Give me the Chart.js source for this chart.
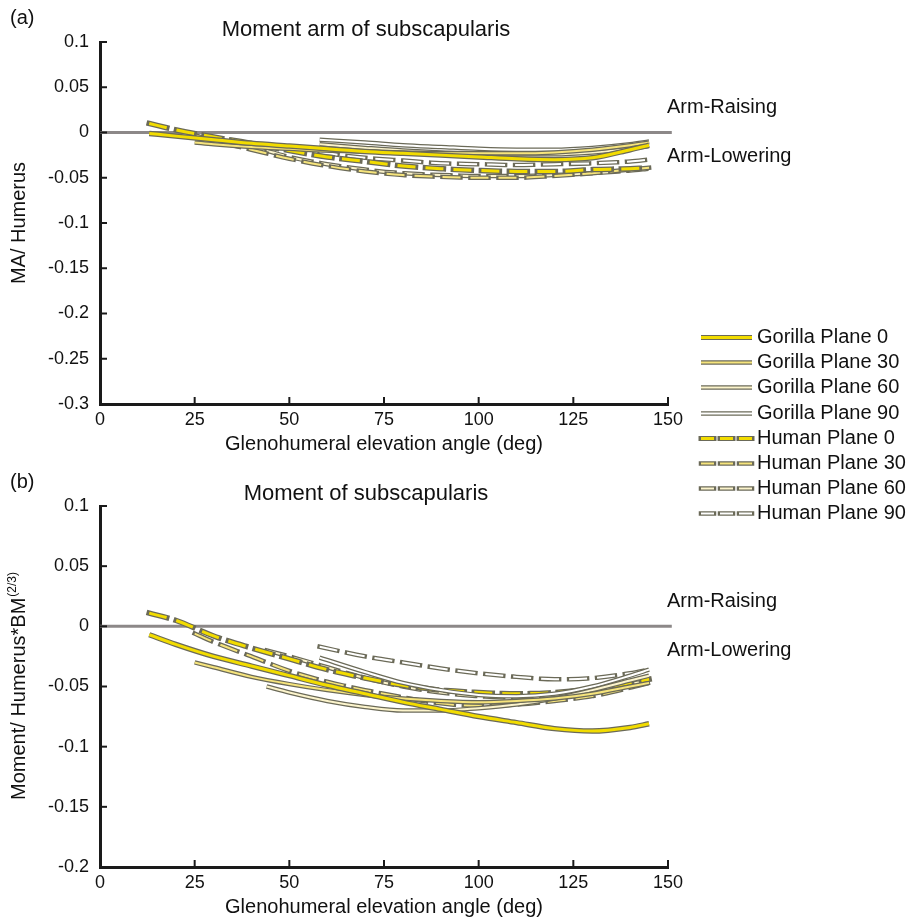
<!DOCTYPE html>
<html lang="en">
<head>
    <meta charset="UTF-8">
    <title>Moment arm of subscapularis</title>
    <script src="https://cdn.jsdelivr.net/npm/chart.js"></script>
    <style>
        body {
            margin: 0;
            background-color: #fff;
        }
        #wrap {
            position: relative;
            width: 914px;
            height: 917px;
        }
        canvas {
            position: absolute;
            left: 0;
        }
    </style>
</head>
<body>

<div id="wrap">
    <canvas id="chartA" width="914" height="460" style="top:0"></canvas>
    <canvas id="chartB" width="914" height="457" style="top:460px"></canvas>
    <canvas id="legend" width="216" height="200" style="left:698px; top:325px"></canvas>
</div>

<script>
// x positions (deg) - each series starts at a different elevation
const X_13 = [13, 20, 30, 40, 50, 60, 70, 80, 90, 100, 110, 120, 130, 140, 145];
const X_25 = [25, 30, 40, 50, 60, 70, 80, 90, 100, 110, 120, 130, 140, 145];
const X_44 = [44, 50, 60, 70, 80, 90, 100, 110, 120, 130, 140, 145];
const X_58 = [58, 70, 80, 90, 100, 110, 120, 130, 140, 145];

// (a) moment arm
const A_GOR0  = [-0.001, -0.004, -0.008, -0.012, -0.015, -0.018, -0.021, -0.023, -0.025, -0.027, -0.029, -0.030, -0.028, -0.019, -0.014];
const A_GOR30 = [-0.011, -0.013, -0.016, -0.018, -0.020, -0.021, -0.022, -0.023, -0.023, -0.023, -0.022, -0.019, -0.014, -0.011];
const A_GOR60 = [-0.013, -0.017, -0.020, -0.022, -0.023, -0.024, -0.024, -0.022, -0.018, -0.015];
const A_GOR90 = [-0.008, -0.011, -0.014, -0.016, -0.018, -0.019, -0.019, -0.017, -0.013, -0.010];
const A_HUM0  = [0.010, 0.003, -0.005, -0.012, -0.020, -0.027, -0.032, -0.037, -0.040, -0.042, -0.043, -0.043, -0.041, -0.040, -0.039];
const A_HUM30 = [-0.003, -0.009, -0.019, -0.029, -0.037, -0.043, -0.047, -0.049, -0.050, -0.050, -0.048, -0.045, -0.041, -0.039];
const A_HUM60 = [-0.020, -0.027, -0.035, -0.041, -0.045, -0.047, -0.048, -0.048, -0.047, -0.045, -0.042, -0.040];
const A_HUM90 = [-0.022, -0.028, -0.031, -0.034, -0.035, -0.036, -0.035, -0.034, -0.032, -0.030];

// (b) moment
const B_GOR0  = [-0.007, -0.015, -0.025, -0.033, -0.041, -0.049, -0.056, -0.063, -0.069, -0.075, -0.080, -0.085, -0.087, -0.084, -0.081];
const B_GOR30 = [-0.030, -0.034, -0.042, -0.048, -0.053, -0.057, -0.060, -0.062, -0.063, -0.062, -0.060, -0.056, -0.050, -0.047];
const B_GOR60 = [-0.050, -0.055, -0.062, -0.067, -0.070, -0.070, -0.068, -0.065, -0.060, -0.053, -0.045, -0.041];
const B_GOR90 = [-0.026, -0.038, -0.047, -0.053, -0.057, -0.058, -0.056, -0.050, -0.041, -0.036];
const B_HUM0  = [0.011, 0.005, -0.008, -0.018, -0.027, -0.036, -0.043, -0.049, -0.053, -0.055, -0.056, -0.055, -0.052, -0.047, -0.044];
const B_HUM30 = [-0.006, -0.013, -0.025, -0.037, -0.046, -0.053, -0.059, -0.064, -0.066, -0.065, -0.062, -0.058, -0.051, -0.047];
const B_HUM60 = [-0.020, -0.025, -0.034, -0.043, -0.050, -0.055, -0.058, -0.059, -0.057, -0.053, -0.048, -0.045];
const B_HUM90 = [-0.017, -0.025, -0.030, -0.035, -0.039, -0.042, -0.044, -0.043, -0.039, -0.036];

const NAMES = ['Gorilla Plane 0', 'Gorilla Plane 30', 'Gorilla Plane 60', 'Gorilla Plane 90',
               'Human Plane 0', 'Human Plane 30', 'Human Plane 60', 'Human Plane 90'];
const COLORS = ['#f2dc00', '#f6e47c', '#fcf4cc', '#ffffff', '#f2dc00', '#f6e47c', '#fcf4cc', '#ffffff'];
const DASHED = [false, false, false, false, true, true, true, true];
const OUTLINE = '#6b6a58';

const X_TICK_STEP = 25;
const FONT = "'Liberation Sans', Arial, Helvetica, sans-serif";

Chart.defaults.font.family = FONT;
Chart.defaults.color = '#111';

function montarDatasets(xs, ys) {
    const sets = [];
    for (let i = 0; i < ys.length; i++) {
        const pts = xs[i].map((x, k) => ({ x: x, y: ys[i][k] }));
        const bold = COLORS[i] === '#f2dc00';
        const dash = DASHED[i] ? [18, 10] : [];
        // colored core first, so it is painted above its outline
        sets.push({
            data: pts,
            borderColor: COLORS[i],
            borderWidth: bold ? 3 : 2,
            borderDash: dash,
            borderCapStyle: 'butt',
            pointRadius: 0,
            cubicInterpolationMode: 'monotone'
        });
        sets.push({
            data: pts,
            borderColor: OUTLINE,
            borderWidth: bold ? 5.5 : 4.5,
            borderDash: dash,
            borderCapStyle: DASHED[i] ? 'square' : 'butt',
            pointRadius: 0,
            cubicInterpolationMode: 'monotone'
        });
    }
    // zero reference line, drawn behind everything
    sets.push({
        data: [{ x: 0, y: 0 }, { x: 151, y: 0 }],
        borderColor: '#8c8888',
        borderWidth: 3,
        pointRadius: 0,
        clip: false
    });
    return sets;
}

function textoPainel(opts) {
    return {
        id: 'textoPainel',
        afterDraw(chart) {
            const { ctx, chartArea: a, scales: { x, y } } = chart;
            ctx.save();

            // inward tick marks
            ctx.strokeStyle = '#1a1a1a';
            ctx.lineWidth = 2;
            x.ticks.forEach(t => {
                if (t.value === 0) return;
                const px = x.getPixelForValue(t.value);
                ctx.beginPath();
                ctx.moveTo(px, a.bottom);
                ctx.lineTo(px, a.bottom - 7);
                ctx.stroke();
            });
            y.ticks.forEach(t => {
                const py = y.getPixelForValue(t.value);
                ctx.beginPath();
                ctx.moveTo(a.left, py);
                ctx.lineTo(a.left + 7, py);
                ctx.stroke();
            });

            ctx.fillStyle = '#111';
            ctx.textBaseline = 'middle';

            ctx.font = '20px ' + FONT;
            ctx.textAlign = 'left';
            ctx.fillText(opts.label, 10, a.top - 24);

            ctx.font = '22px ' + FONT;
            ctx.textAlign = 'center';
            ctx.fillText(opts.title, 366, a.top - 12);

            ctx.font = '20px ' + FONT;
            ctx.fillText('Glenohumeral elevation angle (deg)', (a.left + a.right) / 2, a.bottom + 40);

            const zero = y.getPixelForValue(0);
            ctx.textAlign = 'left';
            ctx.fillText('Arm-Raising', a.right - 1, zero - 25);
            ctx.fillText('Arm-Lowering', a.right - 1, zero + 24);

            // rotated y title, with optional superscript
            ctx.translate(19, (a.top + a.bottom) / 2);
            ctx.rotate(-Math.PI / 2);
            ctx.font = '20px ' + FONT;
            const w1 = ctx.measureText(opts.ytitle).width;
            let w2 = 0;
            if (opts.ysup) {
                ctx.font = '12px ' + FONT;
                w2 = ctx.measureText(opts.ysup).width;
            }
            const start = -(w1 + w2) / 2;
            ctx.textAlign = 'left';
            ctx.font = '20px ' + FONT;
            ctx.fillText(opts.ytitle, start, 0);
            if (opts.ysup) {
                ctx.font = '12px ' + FONT;
                ctx.fillText(opts.ysup, start + w1 + 1, -6);
            }
            ctx.restore();
        }
    };
}

function desenharPainel(id, xs, ys, yMin, yMax, padTop, xHeight, opts) {
    const ctx = document.getElementById(id).getContext('2d');
    return new Chart(ctx, {
        type: 'line',
        data: { datasets: montarDatasets(xs, ys) },
        options: {
            responsive: false,
            animation: false,
            events: [],
            layout: { padding: { top: padTop, right: 246, left: 0, bottom: 0 } },
            plugins: {
                legend: { display: false },
                tooltip: { enabled: false }
            },
            scales: {
                x: {
                    type: 'linear',
                    min: 0,
                    max: 150,
                    grid: { display: false, drawTicks: false },
                    border: { display: true, width: 3, color: '#1a1a1a' },
                    ticks: { stepSize: X_TICK_STEP, padding: 5, font: { size: 18 }, color: '#111' },
                    afterFit: s => { s.height = xHeight; }
                },
                y: {
                    min: yMin,
                    max: yMax,
                    grid: { display: false, drawTicks: false },
                    border: { display: true, width: 3, color: '#1a1a1a' },
                    ticks: {
                        stepSize: 0.05,
                        padding: 11,
                        font: { size: 18 },
                        color: '#111',
                        callback: v => String(Math.round(v * 100) / 100)
                    },
                    afterFit: s => { s.width = 100; }
                }
            }
        },
        plugins: [textoPainel(opts)]
    });
}

desenharPainel('chartA',
    [X_13, X_25, X_58, X_58, X_13, X_25, X_44, X_58],
    [A_GOR0, A_GOR30, A_GOR60, A_GOR90, A_HUM0, A_HUM30, A_HUM60, A_HUM90],
    -0.3, 0.1, 42, 56,
    { label: '(a)', title: 'Moment arm of subscapularis', ytitle: 'MA/ Humerus' });

desenharPainel('chartB',
    [X_13, X_25, X_44, X_58, X_13, X_25, X_44, X_58],
    [B_GOR0, B_GOR30, B_GOR60, B_GOR90, B_HUM0, B_HUM30, B_HUM60, B_HUM90],
    -0.2, 0.1, 46, 50,
    { label: '(b)', title: 'Moment of subscapularis', ytitle: 'Moment/ Humerus*BM', ysup: '(2/3)' });

// legend with outlined line samples
function desenharLegenda() {
    const ctx = document.getElementById('legend').getContext('2d');
    ctx.font = '20px ' + FONT;
    ctx.textBaseline = 'middle';
    NAMES.forEach((nome, i) => {
        const cy = Math.round(12 + i * 25.2) + 0.5;
        const bold = COLORS[i] === '#f2dc00';
        const dash = DASHED[i] ? [13, 6] : [];
        ctx.setLineDash(dash);
        ctx.strokeStyle = OUTLINE;
        ctx.lineWidth = bold ? 5 : 4.5;
        ctx.lineCap = DASHED[i] ? 'square' : 'butt';
        ctx.beginPath();
        ctx.moveTo(3, cy);
        ctx.lineTo(54, cy);
        ctx.stroke();
        ctx.strokeStyle = COLORS[i];
        ctx.lineWidth = bold ? 3 : 2;
        ctx.lineCap = 'butt';
        ctx.beginPath();
        ctx.moveTo(3, cy);
        ctx.lineTo(54, cy);
        ctx.stroke();
        ctx.setLineDash([]);
        ctx.fillStyle = '#111';
        ctx.fillText(nome, 59, cy);
    });
}

desenharLegenda();
</script>

</body>
</html>
